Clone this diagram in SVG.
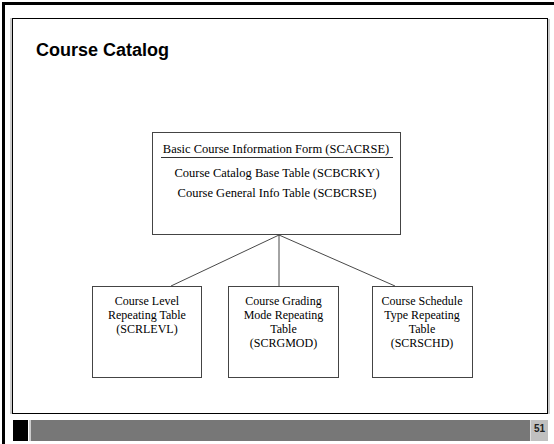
<svg xmlns="http://www.w3.org/2000/svg" width="554" height="444" viewBox="0 0 554 444">
<style>
.t{font-family:"Liberation Serif","Times New Roman",serif;font-size:12px;fill:#000;text-anchor:middle}
.box{fill:#fff;stroke:#444;stroke-width:1}
.conn{stroke:#333;stroke-width:0.9;fill:none}
</style>
<rect x="0" y="0" width="554" height="444" fill="#fff"/>
<!-- outer frame -->
<rect x="2" y="2" width="552" height="3" fill="#000"/>
<rect x="2" y="2" width="3" height="442" fill="#000"/>
<!-- inner frame -->
<line x1="11" y1="18" x2="11" y2="414" stroke="#999" stroke-width="1"/>
<rect x="12.5" y="18.5" width="535" height="395" fill="none" stroke="#000" stroke-width="1"/>
<line x1="549" y1="19" x2="549" y2="414" stroke="#999" stroke-width="1"/>
<text x="36" y="56" font-family="Liberation Sans, Arial, sans-serif" font-size="18" font-weight="bold" fill="#000">Course Catalog</text>
<g id="connectors">
<line class="conn" x1="279" y1="235" x2="171" y2="286"/>
<line class="conn" x1="279" y1="235" x2="279" y2="286"/>
<line class="conn" x1="279" y1="235" x2="395" y2="286"/>
</g>
<g id="top">
<rect class="box" x="152.5" y="132.5" width="248" height="102"/>
<text class="t" x="276" y="153" style="font-size:12.5px">Basic Course Information Form (SCACRSE)</text>
<line x1="161" y1="157.5" x2="393" y2="157.5" stroke="#333" stroke-width="1"/>
<text class="t" x="277" y="177" style="font-size:12.5px">Course Catalog Base Table (SCBCRKY)</text>
<text class="t" x="277" y="197" style="font-size:12.5px">Course General Info Table (SCBCRSE)</text>
</g>
<g id="level">
<rect class="box" x="92.5" y="286.5" width="109" height="91"/>
<text class="t" x="147" y="305">Course Level</text>
<text class="t" x="147" y="319">Repeating Table</text>
<text class="t" x="147" y="333">(SCRLEVL)</text>
</g>
<g id="grading">
<rect class="box" x="228.5" y="286.5" width="110" height="91"/>
<text class="t" x="283.5" y="305">Course Grading</text>
<text class="t" x="283.5" y="319">Mode Repeating</text>
<text class="t" x="283.5" y="333">Table</text>
<text class="t" x="283.5" y="347">(SCRGMOD)</text>
</g>
<g id="schedule">
<rect class="box" x="372.5" y="286.5" width="100" height="91"/>
<text class="t" x="422" y="305">Course Schedule</text>
<text class="t" x="422" y="319">Type Repeating</text>
<text class="t" x="422" y="333">Table</text>
<text class="t" x="422" y="347">(SCRSCHD)</text>
</g>
<!-- bottom bar -->
<rect x="13" y="420" width="15" height="21" fill="#000"/>
<rect x="29" y="420" width="2" height="21" fill="#ccc"/>
<rect x="31" y="420" width="499" height="21" fill="#777"/>
<rect x="530" y="420" width="1" height="21" fill="#ddd"/>
<rect x="531" y="420" width="17" height="21" fill="#c0c0c0"/>
<text x="539.5" y="431.5" font-family="Liberation Sans, Arial, sans-serif" font-size="10" font-weight="bold" fill="#222" text-anchor="middle">51</text>
</svg>
